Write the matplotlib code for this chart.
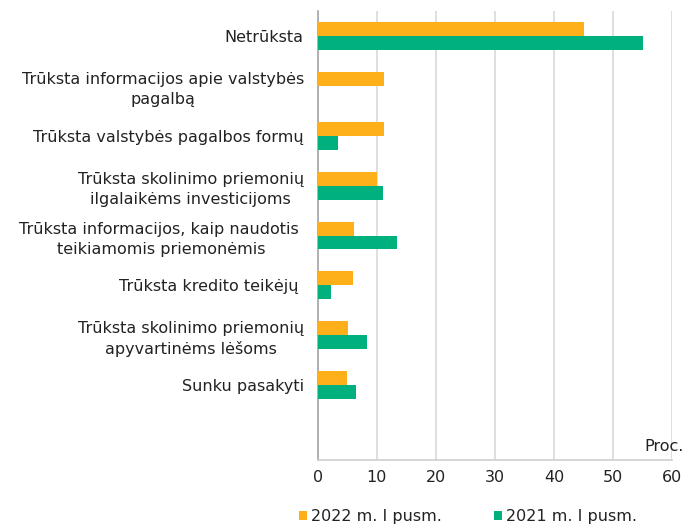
import matplotlib
matplotlib.use("Agg")
import matplotlib.pyplot as plt
import numpy as np

categories = [
    "Netrūksta",
    "Trūksta informacijos apie valstybės\npagalbą",
    "Trūksta valstybės pagalbos formų",
    "Trūksta skolinimo priemonių\nilgalaikėms investicijoms",
    "Trūksta informacijos, kaip naudotis \nteikiamomis priemonėmis",
    "Trūksta kredito teikėjų ",
    "Trūksta skolinimo priemonių\napyvartinėms lėšoms",
    "Sunku pasakyti",
    "",
]
values_2022 = [45.1, 11.2, 11.2, 10.1, 6.1, 5.9, 5.2, 4.9, 0]
values_2021 = [55.0, 0.0, 3.4, 11.1, 13.5, 2.2, 8.3, 6.4, 0]
series_names = ["2022 m. I pusm.", "2021 m. I pusm."]
xticks = [0, 10, 20, 30, 40, 50, 60]

c_orange = "#FDB01A"
c_green = "#00B07D"
fs = 11.5

plt.rcParams['font.family'] = ['DejaVu Sans']
fig = plt.figure(figsize=(6.85, 5.26), dpi=100)
ax = fig.add_axes([0.4638, 0.1255, 0.9814 - 0.4638, 0.979 - 0.1255])

y = np.arange(len(categories))
h = 0.28
ax.barh(y - h / 2, values_2022, height=h, color=c_orange, linewidth=0,
        label=series_names[0], zorder=3)
ax.barh(y + h / 2, values_2021, height=h, color=c_green, linewidth=0,
        label=series_names[1], zorder=3)

ax.set_ylim(len(categories) - 0.5, -0.5)
ax.set_xlim(0, 60)
ax.set_xticks(xticks)
ax.set_xticklabels([str(t) for t in xticks], fontsize=fs, color="#222222")
ax.set_yticks(y)
ax.set_yticklabels(categories, fontsize=fs, color="#222222")
for t in ax.get_yticklabels():
    t.set_multialignment("center")
    t.set_linespacing(1.4)
ax.tick_params(axis="both", length=0)
ax.tick_params(axis="x", pad=7)
ax.tick_params(axis="y", pad=10)

ax.grid(axis="x", color="#D9D9D9", linewidth=1.2, zorder=0)
ax.set_axisbelow(True)
for s in ["top", "right"]:
    ax.spines[s].set_visible(False)
ax.spines["left"].set_color("#A6A6A6")
ax.spines["bottom"].set_color("#D0D0D0")
ax.spines["left"].set_linewidth(1.2)
ax.spines["bottom"].set_linewidth(1.2)

fig.text(0.998, 1 - 451 / 526, "Proc.", ha="right", va="baseline",
         fontsize=fs, color="#222222")

leg = fig.legend(loc="lower left", bbox_to_anchor=(0.415, -0.024), ncol=2,
                 frameon=False, fontsize=fs, handlelength=0.5, handleheight=0.5,
                 handletextpad=0.25, columnspacing=3.3)
for txt in leg.get_texts():
    txt.set_color("#222222")

fig.savefig("out.png", dpi=100)
